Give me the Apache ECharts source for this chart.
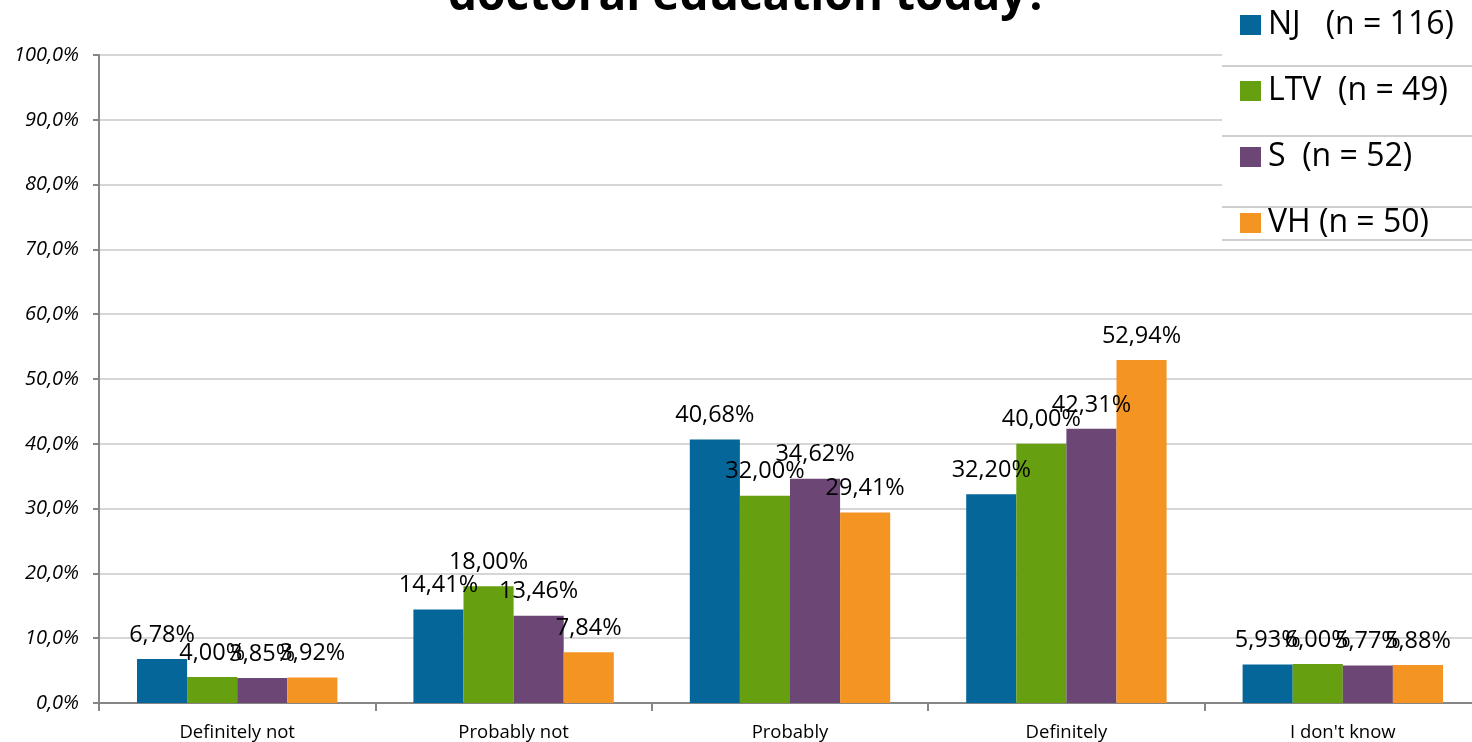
<!DOCTYPE html>
<html>
<head>
<meta charset="utf-8">
<script src="https://cdn.jsdelivr.net/npm/echarts@6/dist/echarts.min.js"></script>
<style>
html,body{margin:0;padding:0;background:#fff;overflow:hidden;width:1472px;height:742px;}
#chart{width:1481px;height:742px;}
</style>
</head>
<body>
<div id="chart"></div>
<script>
const titleText = 'doctoral education today?';
const categories = ['Definitely not', 'Probably not', 'Probably', 'Definitely', "I don't know"];
const seriesNames = ['NJ   (n = 116)', 'LTV  (n = 49)', 'S  (n = 52)', 'VH (n = 50)'];
const NJ  = [6.78, 14.41, 40.68, 32.20, 5.93];
const LTV = [4.00, 18.00, 32.00, 40.00, 6.00];
const S   = [3.85, 13.46, 34.62, 42.31, 5.77];
const VH  = [3.92, 7.84, 29.41, 52.94, 5.88];
const colors = ['#05669a', '#669f0f', '#6c4674', '#f39423'];

const font = '"Open Sans", "DejaVu Sans", sans-serif';
const seriesData = [NJ, LTV, S, VH];

const chart = echarts.init(document.getElementById('chart'));
chart.setOption({
  animation: false,
  backgroundColor: '#ffffff',
  title: {
    text: titleText,
    left: 443,
    top: -31,
    textStyle: { fontFamily: font, fontSize: 46, fontWeight: 'bold', color: '#000' }
  },
  graphic: [
    { type: 'rect', z: 3, shape: { x: 1222, y: 0, width: 260, height: 241 }, style: { fill: '#fff' } },
    { type: 'line', z: 4, shape: { x1: 1222, y1: 66, x2: 1481, y2: 66 }, style: { stroke: '#cfcfcf', lineWidth: 2 } },
    { type: 'line', z: 4, shape: { x1: 1222, y1: 136, x2: 1481, y2: 136 }, style: { stroke: '#cfcfcf', lineWidth: 2 } },
    { type: 'line', z: 4, shape: { x1: 1222, y1: 207, x2: 1481, y2: 207 }, style: { stroke: '#cfcfcf', lineWidth: 2 } },
    { type: 'line', z: 4, shape: { x1: 1222, y1: 240, x2: 1481, y2: 240 }, style: { stroke: '#cfcfcf', lineWidth: 2 } }
  ],
  legend: {
    z: 10,
    orient: 'vertical',
    left: 1240,
    top: 9,
    padding: 0,
    itemGap: 34,
    itemWidth: 21,
    itemHeight: 20,
    icon: 'rect',
    textStyle: { fontFamily: font, fontSize: 32, lineHeight: 30, color: '#000', padding: [0, 0, 0, 2] },
    data: seriesNames
  },
  grid: { left: 99, right: 0, top: 55, bottom: 39, containLabel: false },
  xAxis: {
    type: 'category',
    data: categories,
    axisLine: { lineStyle: { color: '#868686', width: 2 } },
    axisTick: { show: true, length: 8, lineStyle: { color: '#868686', width: 2 } },
    axisLabel: { fontFamily: font, fontSize: 18.5, color: '#000', margin: 20 }
  },
  yAxis: {
    type: 'value',
    min: 0, max: 100, interval: 10,
    axisLine: { show: true, lineStyle: { color: '#868686', width: 2 } },
    axisTick: { show: true, length: 6, lineStyle: { color: '#868686', width: 2 } },
    splitLine: { lineStyle: { color: '#d6d6d6', width: 2 } },
    axisLabel: {
      fontFamily: font, fontSize: 20, fontStyle: 'italic', color: '#000', margin: 20,
      formatter: v => v.toFixed(1).replace('.', ',') + '%'
    }
  },
  series: seriesNames.map((name, i) => ({
    name: name,
    type: 'bar',
    data: seriesData[i],
    barGap: '0%',
    barCategoryGap: '27.5%',
    itemStyle: { color: colors[i] },
    label: {
      show: true,
      position: 'top',
      distance: 12,
      fontFamily: font,
      fontSize: 23.5,
      color: '#000',
      formatter: p => p.value.toFixed(2).replace('.', ',') + '%'
    }
  }))
});
</script>
</body>
</html>
